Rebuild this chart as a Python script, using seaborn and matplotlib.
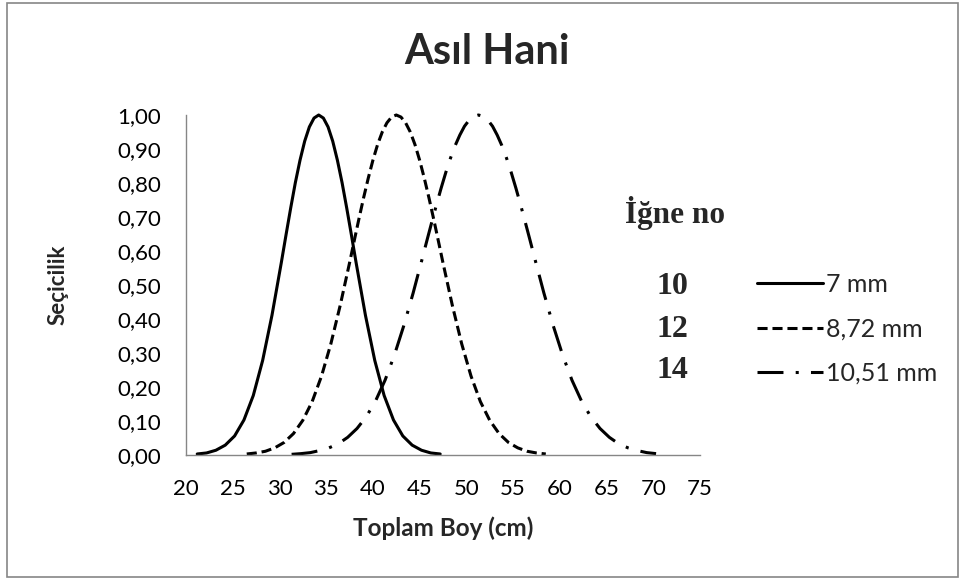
import numpy as np
import pandas as pd
import matplotlib
matplotlib.use("Agg")
import matplotlib.pyplot as plt
from matplotlib.patches import Rectangle
import seaborn as sns

# selectivity curves (length in cm, selectivity 0-1),
# read every cm, every half cm around the peaks
len_7 = [21.2, 22.2, 23.2, 24.2, 25.2, 26.2, 27.2, 28.2, 29.2, 30.2, 30.7, 31.2, 31.7, 32.2, 32.7,
         33.2, 33.7, 34.2, 34.7, 35.2, 35.7, 36.2, 36.7, 37.2, 37.7, 38.2, 39.2, 40.2, 41.2,
         42.2, 43.2, 44.2, 45.2, 46.2, 47.2]
sel_7 = [0.003, 0.006, 0.014, 0.029, 0.056, 0.103, 0.175, 0.278, 0.411, 0.566, 0.647, 0.726, 0.801,
         0.867, 0.923, 0.965, 0.991, 1.000, 0.991, 0.965, 0.923, 0.867, 0.801, 0.726, 0.647,
         0.566, 0.411, 0.278, 0.175, 0.103, 0.056, 0.029, 0.014, 0.006, 0.003]

len_872 = [26.5, 27.5, 28.5, 29.5, 30.5, 31.5, 32.5, 33.5, 34.5, 35.5, 36.5, 37.5, 38.0, 38.5,
           39.0, 39.5, 40.0, 40.5, 41.0, 41.5, 42.0, 42.5, 43.0, 43.5, 44.0, 44.5, 45.0, 45.5,
           46.0, 46.5, 47.0, 47.5, 48.5, 49.5, 50.5, 51.5, 52.5, 53.5, 54.5, 55.5, 56.5, 57.5, 58.5]
sel_872 = [0.003, 0.006, 0.011, 0.021, 0.037, 0.063, 0.102, 0.157, 0.232, 0.327, 0.440, 0.565,
           0.630, 0.694, 0.756, 0.814, 0.867, 0.913, 0.950, 0.977, 0.994, 1.000, 0.994, 0.977,
           0.950, 0.913, 0.867, 0.814, 0.756, 0.694, 0.630, 0.565, 0.440, 0.327, 0.232, 0.157,
           0.102, 0.063, 0.037, 0.021, 0.011, 0.006, 0.003]

len_1051 = [31.3, 32.3, 33.3, 34.3, 35.3, 36.3, 37.3, 38.3, 39.3, 40.3, 41.3, 42.3, 43.3, 44.3,
            45.3, 45.8, 46.3, 46.8, 47.3, 47.8, 48.3, 48.8, 49.3, 49.8, 50.3, 50.8, 51.3, 51.8,
            52.3, 52.8, 53.3, 53.8, 54.3, 54.8, 55.3, 55.8, 56.3, 56.8, 57.3, 58.3, 59.3, 60.3,
            61.3, 62.3, 63.3, 64.3, 65.3, 66.3, 67.3, 68.3, 69.3, 70.3]
sel_1051 = [0.002, 0.004, 0.007, 0.013, 0.021, 0.033, 0.052, 0.078, 0.113, 0.160, 0.220, 0.294,
            0.380, 0.476, 0.580, 0.633, 0.685, 0.736, 0.785, 0.831, 0.873, 0.910, 0.941, 0.967,
            0.985, 0.996, 1.000, 0.996, 0.985, 0.967, 0.941, 0.910, 0.873, 0.831, 0.785, 0.736,
            0.685, 0.633, 0.580, 0.476, 0.380, 0.294, 0.220, 0.160, 0.113, 0.078, 0.052, 0.033,
            0.021, 0.013, 0.007, 0.004]

mesh_labels = ["7 mm", "8,72 mm", "10,51 mm"]
hook_numbers = ["10", "12", "14"]
x_ticks = [20, 25, 30, 35, 40, 45, 50, 55, 60, 65, 70, 75]
y_ticks = [0.0, 0.1, 0.2, 0.3, 0.4, 0.5, 0.6, 0.7, 0.8, 0.9, 1.0]
y_tick_labels = ["0,00", "0,10", "0,20", "0,30", "0,40", "0,50", "0,60", "0,70", "0,80", "0,90", "1,00"]

df = pd.concat([
    pd.DataFrame({"boy": len_7, "sel": sel_7, "mesh": mesh_labels[0]}),
    pd.DataFrame({"boy": len_872, "sel": sel_872, "mesh": mesh_labels[1]}),
    pd.DataFrame({"boy": len_1051, "sel": sel_1051, "mesh": mesh_labels[2]}),
], ignore_index=True)

sns.set_theme(style="white")
plt.rcParams["font.family"] = ["Lato", "DejaVu Sans"]

fig = plt.figure(figsize=(9.59, 5.80), dpi=100)
ax = fig.add_axes([186 / 959, 125 / 580, 514 / 959, 340 / 580])

dash_styles = {mesh_labels[0]: "", mesh_labels[1]: (3.3, 1.6), mesh_labels[2]: (8.5, 4, 1, 4)}
sns.lineplot(data=df, x="boy", y="sel", style="mesh", dashes=dash_styles,
             color="black", linewidth=2.2, sort=False, ax=ax)
for ln in ax.lines:
    ln.set_clip_on(False)

ax.set_xlim(20, 75)
ax.set_ylim(0, 1)
ax.set_xticks(x_ticks)
ax.set_xticklabels([str(v) for v in x_ticks])
ax.set_yticks(y_ticks)
ax.set_yticklabels(y_tick_labels)
ax.tick_params(axis="both", length=0, labelsize=16, colors="black")
ax.tick_params(axis="y", pad=18)
ax.tick_params(axis="x", pad=17)
for side in ["top", "right"]:
    ax.spines[side].set_visible(False)
for side in ["left", "bottom"]:
    ax.spines[side].set_color("#868686")
    ax.spines[side].set_linewidth(1.0)

ax.set_xlabel("Toplam Boy (cm)", fontsize=17.5, fontweight="bold", va="center")
ax.xaxis.set_label_coords(0.5, (455 - 528) / 340)
ax.set_ylabel("Seçicilik", fontsize=16, fontweight="bold", va="center")
ax.yaxis.set_label_coords((58 - 186) / 514, 0.5)

handles, labels = ax.get_legend_handles_labels()
ax.legend(handles, labels, loc="upper left", bbox_to_anchor=(757 / 959, 1 - 273 / 580),
          bbox_transform=fig.transFigure, frameon=False, fontsize=18,
          handlelength=2.65, handletextpad=0.1, labelspacing=0.86,
          borderpad=0, borderaxespad=0)

fig.text(487 / 959, 1 - 52 / 580, "Asıl Hani", ha="center", va="center",
         fontsize=30, fontweight="bold")
serif = ["Liberation Serif", "DejaVu Serif"]
fig.text(675 / 959, 1 - 213 / 580, "İğne no", ha="center", va="center",
         fontsize=22.5, fontweight="bold", family=serif)
for num, yp in zip(hook_numbers, [287, 329.5, 371]):
    fig.text(672 / 959, 1 - yp / 580, num, ha="center", va="center",
             fontsize=23, fontweight="bold", family=serif)

fig.patches.append(Rectangle((7 / 959, 3 / 580), 951 / 959, 574 / 580, transform=fig.transFigure,
                             fill=False, edgecolor="#868686", linewidth=1.2))

fig.savefig("out.png", dpi=100)
